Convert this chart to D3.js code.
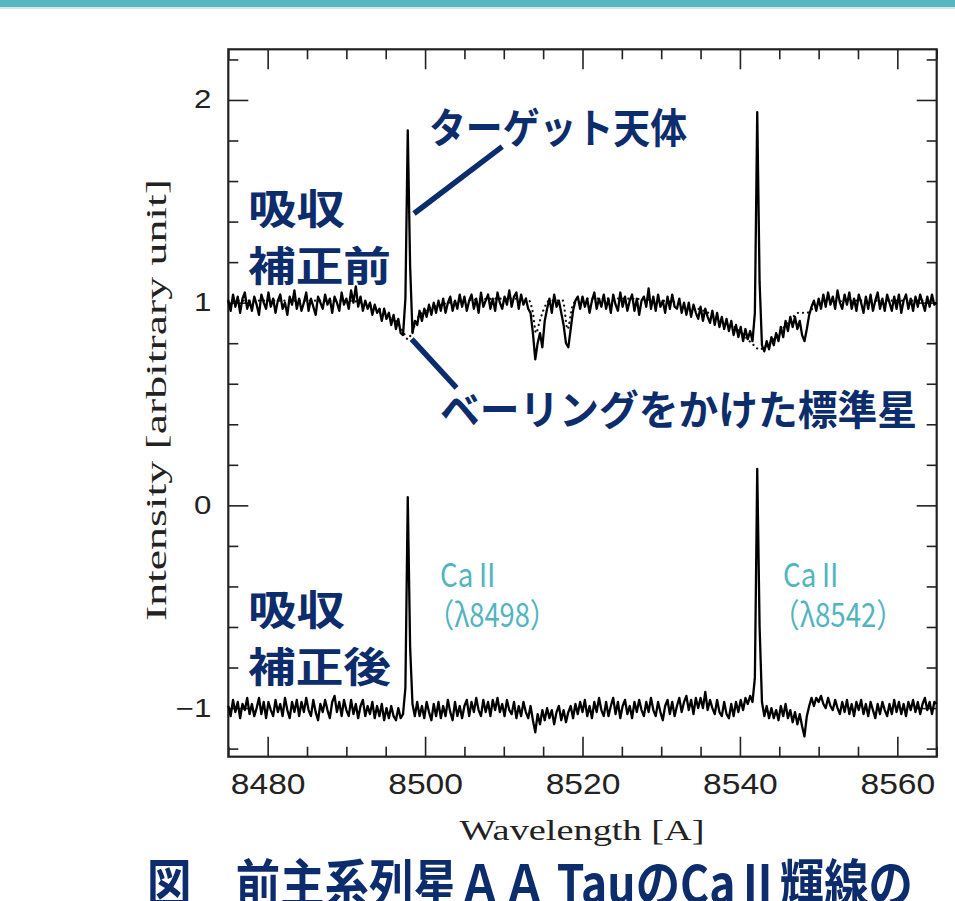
<!DOCTYPE html>
<html>
<head>
<meta charset="utf-8">
<script src="https://cdn.jsdelivr.net/npm/d3@7/dist/d3.min.js"></script>
<style>
  body { margin: 0; background: #fff; }
  svg { display: block; }
</style>
</head>
<body>
<div id="chart"></div>
<script>
// spectra are sampled on a regular wavelength grid (Angstrom)
var waveStart = 8475.0, waveStep = 0.3;

// target star, before telluric correction (one row = 3 A)
var fluxBefore = [
  1.01, 0.96, 1.04, 0.98, 1.03, 0.95, 1.02, 1.05, 0.97, 1.01,
  0.96, 1.03, 0.99, 0.94, 1.04, 1.00, 0.97, 1.05, 0.98, 1.02,
  0.95, 1.01, 1.04, 0.97, 1.00, 0.94, 1.03, 0.99, 1.06, 0.97,
  1.02, 0.96, 1.00, 1.05, 0.96, 1.02, 0.98, 0.94, 1.03, 1.00,
  0.97, 1.04, 0.99, 1.02, 0.95, 1.03, 1.00, 0.96, 1.05, 0.99,
  1.02, 0.97, 1.06, 1.00, 1.08, 0.98, 1.03, 0.96, 1.01, 0.97,
  1.00, 0.94, 0.99, 0.95, 0.97, 0.91, 0.97, 0.92, 0.95, 0.89,
  0.94, 0.87, 0.92, 0.85, 0.84, 1.02, 1.85, 1.18, 0.85, 0.91,
  0.89, 0.96, 0.91, 0.97, 0.93, 0.99, 0.94, 1.00, 0.95, 1.01,
  0.96, 1.02, 0.95, 1.00, 1.03, 0.96, 1.01, 0.97, 1.04, 0.98,
  1.03, 0.96, 1.01, 1.04, 0.97, 1.02, 0.95, 1.05, 0.98, 1.01,
  1.04, 0.97, 1.02, 0.96, 1.05, 1.00, 0.97, 1.03, 0.99, 1.06,
  0.98, 1.03, 1.05, 0.97, 1.04, 0.99, 1.02, 0.97, 0.95, 0.85,
  0.72, 0.80, 0.85, 0.78, 0.91, 0.97, 1.02, 0.95, 1.04, 0.98,
  1.01, 0.95, 0.89, 0.80, 0.78, 0.87, 0.96, 1.01, 1.03, 0.97,
  1.03, 0.98, 1.02, 0.95, 1.01, 1.05, 0.97, 1.02, 0.98, 1.04,
  0.97, 1.02, 0.95, 1.04, 0.99, 0.96, 1.05, 0.98, 1.03, 0.96,
  1.01, 1.04, 0.96, 1.02, 0.94, 1.01, 1.03, 0.98, 1.07, 0.97,
  1.03, 0.96, 1.04, 0.98, 1.01, 0.95, 1.03, 0.97, 1.04, 0.98,
  0.97, 1.02, 0.95, 1.00, 0.94, 1.00, 0.93, 0.99, 0.95, 0.92,
  0.98, 0.91, 0.97, 0.93, 0.90, 0.96, 0.89, 0.95, 0.88, 0.93,
  0.87, 0.92, 0.86, 0.91, 0.84, 0.89, 0.83, 0.88, 0.81, 0.87,
  0.82, 0.86, 0.81, 0.95, 1.94, 1.10, 0.79, 0.76, 0.81, 0.77,
  0.83, 0.79, 0.85, 0.81, 0.88, 0.83, 0.91, 0.86, 0.93, 0.88,
  0.93, 0.87, 0.91, 0.84, 0.81, 0.87, 0.94, 0.98, 1.01, 0.96,
  1.02, 0.97, 1.04, 0.98, 1.05, 0.99, 1.03, 0.97, 1.06, 1.00,
  0.97, 1.04, 0.99, 1.05, 0.97, 1.02, 0.96, 1.04, 1.00, 0.95,
  1.03, 0.97, 1.04, 0.96, 1.01, 1.05, 0.97, 1.02, 0.96, 1.04,
  1.00, 0.96, 1.03, 0.97, 1.04, 0.95, 1.01, 1.04, 0.97, 1.02,
  0.96, 1.03, 0.98, 1.04, 1.00, 0.96, 1.03, 0.98, 1.04, 0.99,
  1.00
];

// target star, after correction (shifted down by 2)
var fluxAfter = [
  -0.99, -1.04, -0.96, -1.02, -0.97, -1.05, -0.98, -1.01, -0.95, -1.03,
  -0.98, -1.04, -1.00, -0.95, -1.03, -0.97, -1.05, -0.97, -1.01, -1.04,
  -0.96, -1.02, -0.98, -1.04, -0.95, -1.01, -1.05, -0.97, -1.02, -0.96,
  -1.04, -0.97, -1.02, -0.95, -1.01, -1.04, -0.96, -1.02, -1.06, -0.98,
  -1.02, -0.96, -1.01, -1.05, -0.97, -0.94, -1.02, -0.97, -1.04, -0.96,
  -1.01, -1.04, -0.96, -1.03, -0.98, -1.05, -0.99, -0.96, -1.04, -0.99,
  -1.03, -0.97, -1.05, -0.99, -1.04, -0.98, -1.06, -1.00, -1.05, -0.99,
  -1.04, -1.06, -1.00, -1.05, -1.03, -0.90, 0.04, -0.70, -0.98, -1.04,
  -0.97, -1.04, -0.99, -1.05, -0.97, -1.02, -1.06, -0.98, -1.04, -0.97,
  -1.05, -0.99, -1.04, -0.96, -1.02, -1.06, -0.97, -1.04, -0.99, -1.05,
  -0.99, -0.96, -1.04, -0.97, -1.02, -0.95, -1.01, -1.04, -0.96, -1.02,
  -0.97, -1.04, -0.96, -1.01, -0.95, -1.02, -0.98, -1.04, -0.96, -1.01,
  -1.03, -0.97, -1.05, -0.99, -1.04, -0.97, -1.02, -1.05, -0.99, -1.06,
  -1.12, -1.03, -1.08, -1.01, -1.06, -1.00, -1.05, -1.01, -1.08, -1.02,
  -0.99, -1.06, -1.01, -1.07, -1.02, -0.99, -1.05, -0.98, -1.03, -0.97,
  -1.02, -0.96, -1.04, -0.99, -1.05, -0.97, -1.02, -0.95, -1.01, -1.04,
  -0.97, -1.04, -0.99, -0.95, -1.03, -0.97, -1.05, -0.99, -0.96, -1.03,
  -0.99, -1.05, -0.97, -1.02, -0.96, -1.01, -1.04, -0.97, -1.02, -0.95,
  -1.01, -1.04, -0.97, -1.02, -1.06, -0.99, -0.96, -1.03, -0.97, -1.04,
  -0.99, -0.95, -1.02, -0.97, -0.94, -1.01, -0.96, -1.03, -0.95, -1.00,
  -0.95, -1.00, -0.92, -1.01, -0.96, -1.00, -1.03, -0.96, -1.02, -1.04,
  -0.97, -1.03, -1.05, -0.98, -1.04, -0.97, -1.02, -0.96, -1.01, -0.95,
  -0.98, -0.94, -0.97, -0.85, 0.18, -0.60, -0.97, -1.04, -0.99, -1.05,
  -1.00, -1.05, -1.01, -1.06, -0.99, -1.04, -0.98, -1.05, -1.01, -1.07,
  -1.02, -1.08, -1.03, -1.09, -1.14, -1.04, -0.99, -0.95, -0.99, -0.95,
  -0.97, -0.94, -0.98, -1.00, -0.95, -0.99, -1.01, -0.96, -1.00, -1.03,
  -0.97, -1.02, -0.96, -1.03, -0.98, -1.04, -0.97, -1.01, -0.96, -1.03,
  -0.98, -1.04, -0.97, -1.01, -1.05, -0.98, -1.03, -0.97, -1.01, -1.04,
  -0.98, -1.03, -0.96, -1.02, -0.97, -1.03, -0.98, -1.04, -0.97, -1.01,
  -0.96, -1.02, -0.97, -1.03, -0.98, -0.95, -1.01, -0.97, -1.03, -0.97,
  -0.98
];

// standard star (dotted)
var standardWave = [8475, 8480, 8485, 8490, 8492, 8494, 8495.5, 8496.5, 8497.3, 8497.8,
  8498.3, 8499, 8500, 8502, 8505, 8510, 8513, 8513.7, 8514.1, 8514.5, 8515, 8515.8,
  8517.5, 8518.1, 8518.7, 8519.5, 8525, 8530, 8533, 8536, 8538, 8540, 8541.5, 8542.5,
  8543.5, 8545, 8546.5, 8547.5, 8548.5, 8549.5, 8551, 8555, 8565];
var standardFlux = [1.01, 1.01, 1.01, 1.01, 1.00, 0.97, 0.94, 0.90, 0.85, 0.82,
  0.85, 0.92, 0.96, 0.99, 1.01, 1.02, 1.02, 0.95, 0.85, 0.90, 0.96, 1.01,
  1.01, 0.87, 0.98, 1.02, 1.02, 1.01, 0.99, 0.95, 0.91, 0.86, 0.80, 0.77,
  0.79, 0.85, 0.92, 0.95, 0.95, 0.98, 1.00, 1.01, 1.01];

var xMajor = [8480, 8500, 8520, 8540, 8560];
var xMinor = [8475, 8485, 8490, 8495, 8505, 8510, 8515, 8525, 8530, 8535, 8545, 8550, 8555, 8565];
var yMajor = [-1, 0, 1, 2];
var yMajorLabels = ["\u22121", "0", "1", "2"];
var yMinor = [-1.2, -0.8, -0.6, -0.4, -0.2, 0.2, 0.4, 0.6, 0.8, 1.2, 1.4, 1.6, 1.8, 2.2];

var navy = "#0c2c6c", teal = "#52b4bf";

var W = 955, H = 901;
var svg = d3.select("#chart").append("svg").attr("width", W).attr("height", H);

// teal strip on top of the page
svg.append("rect").attr("x", 0).attr("y", 0).attr("width", W).attr("height", 7).attr("fill", "#58b6c1");
svg.append("rect").attr("x", 0).attr("y", 7).attr("width", W).attr("height", 2).attr("fill", "#cfeaed");

var x = d3.scaleLinear().domain([8475, 8565]).range([228.3, 936.7]);
var y = d3.scaleLinear().domain([-1.24, 2.25]).range([756.7, 49.3]);

function stretch(sel, k) {
  sel.each(function() {
    var w = this.getComputedTextLength();
    d3.select(this).attr("textLength", w * k).attr("lengthAdjust", "spacingAndGlyphs");
  });
}

// axes with ticks pointing inward
function axisPair(axisFn, scale, transform, major, minor, labels, pad) {
  var g = svg.append("g").attr("transform", transform);
  g.append("g").call(axisFn(scale).tickValues(minor).tickSize(-10).tickFormat(""));
  var m = g.append("g").call(axisFn(scale).tickValues(major).tickSize(-20).tickPadding(pad)
    .tickFormat(labels ? function(d, i) { return labels[i]; } : ""));
  g.selectAll(".domain").remove();
  g.selectAll("line").attr("stroke", "#222").attr("stroke-width", 1.6);
  return m;
}

var bottom = axisPair(d3.axisBottom, x, "translate(0,756.7)", xMajor, xMinor, xMajor.map(String), 16.5);
bottom.selectAll("text").attr("font-family", "Liberation Sans, Arial, sans-serif").attr("font-size", 30).attr("fill", "#222");
stretch(bottom.selectAll("text"), 1.12);
axisPair(d3.axisTop, x, "translate(0,49.3)", xMajor, xMinor, null, 3);
var left = axisPair(d3.axisLeft, y, "translate(228.3,0)", yMajor, yMinor, yMajorLabels, 17);
left.selectAll("text").attr("font-family", "Liberation Sans, Arial, sans-serif").attr("font-size", 25).attr("fill", "#222");
stretch(left.selectAll("text"), 1.25);
axisPair(d3.axisRight, y, "translate(936.7,0)", yMajor, yMinor, null, 3);

// frame
svg.append("rect")
  .attr("x", x(8475)).attr("y", y(2.25))
  .attr("width", x(8565) - x(8475)).attr("height", y(-1.24) - y(2.25))
  .attr("fill", "none").attr("stroke", "#222").attr("stroke-width", 2.2);

// axis titles
svg.append("text")
  .attr("x", 582).attr("y", 840).attr("text-anchor", "middle")
  .attr("font-family", "Liberation Serif, Times New Roman, serif").attr("font-size", 30)
  .attr("fill", "#222").attr("textLength", 245).attr("lengthAdjust", "spacingAndGlyphs")
  .text("Wavelength [A]");
svg.append("text")
  .attr("transform", "translate(166,400) rotate(-90)").attr("text-anchor", "middle")
  .attr("font-family", "Liberation Serif, Times New Roman, serif").attr("font-size", 30)
  .attr("fill", "#222").attr("textLength", 442).attr("lengthAdjust", "spacingAndGlyphs")
  .text("Intensity [arbitrary unit]");

// spectra
var plot = svg.append("g");
function gridLine(values) {
  return d3.line()
    .x(function(d, i) { return x(waveStart + i * waveStep); })
    .y(function(d) { return y(d); })(values);
}

plot.append("path")
  .datum(standardWave.map(function(w, i) { return [w, standardFlux[i]]; }))
  .attr("d", d3.line().curve(d3.curveMonotoneX)
    .x(function(d) { return x(d[0]); }).y(function(d) { return y(d[1]); }))
  .attr("fill", "none").attr("stroke", "#111").attr("stroke-width", 2.2)
  .attr("stroke-linecap", "round").attr("stroke-dasharray", "0.1 5");

plot.append("path").attr("d", gridLine(fluxBefore))
  .attr("fill", "none").attr("stroke", "#000").attr("stroke-width", 2.3).attr("stroke-linejoin", "round");
plot.append("path").attr("d", gridLine(fluxAfter))
  .attr("fill", "none").attr("stroke", "#000").attr("stroke-width", 2.3).attr("stroke-linejoin", "round");

// annotation leader lines (data coordinates)
var leaders = [
  [[8498.6, 1.44], [8509.8, 1.77]],
  [[8498.3, 0.82], [8504.0, 0.58]]
];
svg.selectAll(".leader").data(leaders).enter().append("line")
  .attr("x1", function(d) { return x(d[0][0]); }).attr("y1", function(d) { return y(d[0][1]); })
  .attr("x2", function(d) { return x(d[1][0]); }).attr("y2", function(d) { return y(d[1][1]); })
  .attr("stroke", navy).attr("stroke-width", 5.5);

// navy Japanese labels
var jp = "Noto Sans CJK JP, Noto Sans CJK SC, sans-serif";
var navyLabels = [
  { t: "ターゲット天体", x: 429, y: 143, len: 258 },
  { t: "吸収", x: 248, y: 224, len: 97 },
  { t: "補正前", x: 248, y: 281, len: 143 },
  { t: "ベーリングをかけた標準星", x: 440, y: 425, len: 477 },
  { t: "吸収", x: 248, y: 625, len: 97 },
  { t: "補正後", x: 248, y: 682, len: 143 }
];
svg.selectAll(".navy").data(navyLabels).enter().append("text")
  .attr("x", function(d) { return d.x; }).attr("y", function(d) { return d.y; })
  .attr("font-family", jp).attr("font-weight", 700).attr("font-size", 41).attr("fill", navy)
  .attr("textLength", function(d) { return d.len; }).attr("lengthAdjust", "spacingAndGlyphs")
  .text(function(d) { return d.t; });

// Ca II line labels
var caLabels = [
  { t: "CaⅡ", x: 440, y: 587, len: 61 },
  { t: "（λ8498）", x: 427, y: 627, len: 130 },
  { t: "CaⅡ", x: 783, y: 587, len: 61 },
  { t: "（λ8542）", x: 772, y: 627, len: 132 }
];
svg.selectAll(".ca").data(caLabels).enter().append("text")
  .attr("x", function(d) { return d.x; }).attr("y", function(d) { return d.y; })
  .attr("font-family", jp).attr("font-size", 33).attr("fill", teal)
  .attr("textLength", function(d) { return d.len; }).attr("lengthAdjust", "spacingAndGlyphs")
  .text(function(d) { return d.t; });

// figure caption, cut by the bottom edge
svg.append("text")
  .attr("x", 147).attr("y", 903)
  .attr("font-family", jp).attr("font-weight", 700).attr("font-size", 52).attr("fill", navy)
  .attr("textLength", 766).attr("lengthAdjust", "spacingAndGlyphs")
  .text("図　前主系列星ＡＡ TauのCaⅡ輝線の");
</script>
</body>
</html>
